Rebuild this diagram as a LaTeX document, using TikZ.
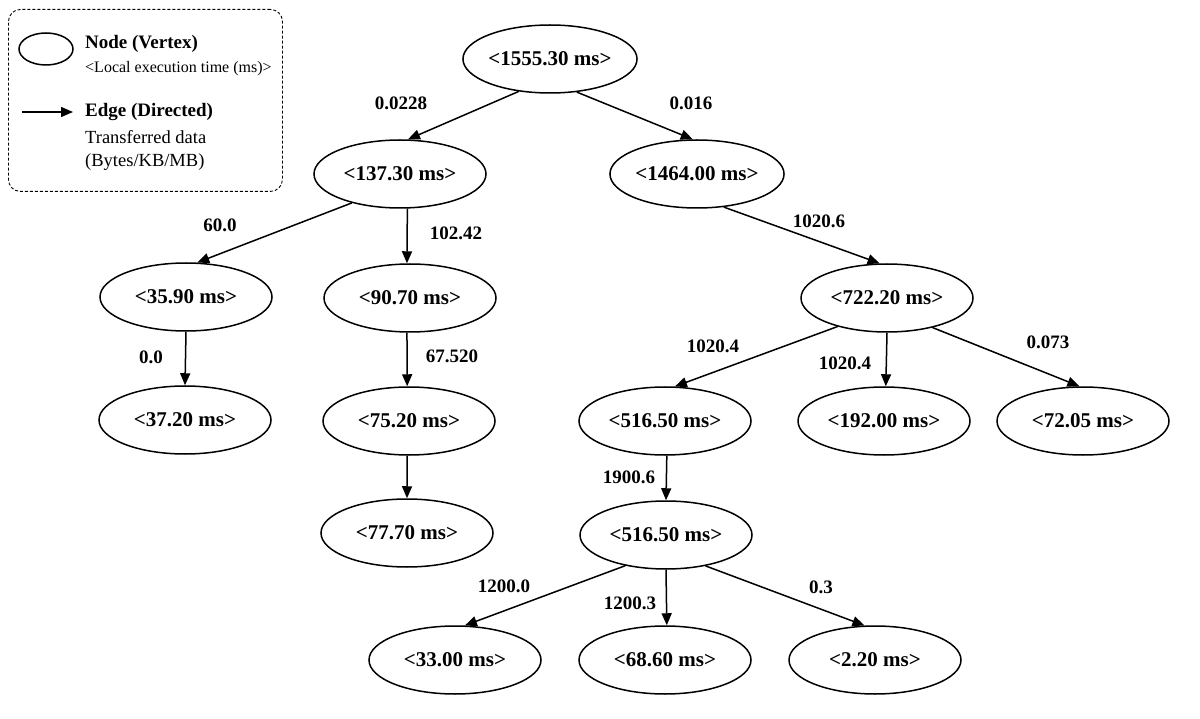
\documentclass[tikz,border=0pt]{standalone}
\usepackage{fontspec}
\setmainfont{Liberation Serif}
\usetikzlibrary{shapes.geometric,arrows.meta}
\begin{document}
\begin{tikzpicture}[x=1pt,y=-1pt,
  vert/.style={ellipse,draw,line width=1.5pt,minimum width=172pt,minimum height=68pt,inner sep=0pt,font=\fontsize{21}{25}\selectfont\bfseries},
  edge/.style={line width=1.5pt,-{Triangle[length=12pt,width=10pt]}},
  elab/.style={inner sep=0pt,font=\fontsize{19}{23}\selectfont\bfseries},
  legbox/.style={draw,dashed,dash pattern=on 3pt off 2pt,line width=0.9pt,rounded corners=12pt},
  legtxt/.style={anchor=base west,inner sep=0pt},
  legbold/.style={legtxt,font=\fontsize{19}{23}\selectfont\bfseries},
  legreg/.style={legtxt,font=\fontsize{18.5}{22}\selectfont},
  legsmall/.style={legtxt,font=\fontsize{16}{20}\selectfont}]
\useasboundingbox[fill=white] (0,0) rectangle (1200,719);

% legend
\node[legbox,minimum width=274pt,minimum height=182pt,anchor=north west] (legend) at (8,9) {};
\node[ellipse,draw,line width=1.5pt,minimum width=54pt,minimum height=32pt,inner sep=0pt] (legnode) at (46,49) {};
\node[legbold] (legnodet) at (85,49) {Node (Vertex)};
\node[legsmall] (legnoded) at (85,73) {<Local execution time (ms)>};
\coordinate (legA) at (22,112);
\coordinate (legB) at (73,112);
\draw[edge] (legA) -- (legB);
\node[legbold] (legedget) at (85,117) {Edge (Directed)};
\node[legreg] (legedged) at (85,144) {Transferred data};
\node[legreg] (legedgee) at (85,167) {(Bytes/KB/MB)};

% nodes
\node[vert] (root) at (550,59) {<1555.30 ms>};
\node[vert] (n137) at (400,174) {<137.30 ms>};
\node[vert] (n1464) at (697,174) {<1464.00 ms>};
\node[vert] (n3590) at (186,297) {<35.90 ms>};
\node[vert] (n9070) at (410,298) {<90.70 ms>};
\node[vert] (n7222) at (887,298) {<722.20 ms>};
\node[vert] (n3720) at (185,420) {<37.20 ms>};
\node[vert] (n7520) at (409,421) {<75.20 ms>};
\node[vert] (n5165a) at (665,421) {<516.50 ms>};
\node[vert] (n19200) at (884,421) {<192.00 ms>};
\node[vert] (n7205) at (1083,421) {<72.05 ms>};
\node[vert] (n7770) at (407,533) {<77.70 ms>};
\node[vert] (n5165b) at (666,535) {<516.50 ms>};
\node[vert] (n3300) at (455,660) {<33.00 ms>};
\node[vert] (n6860) at (665,660) {<68.60 ms>};
\node[vert] (n220) at (875,660) {<2.20 ms>};

% edges
\draw[edge] (root.226) -- (n137.77);
\draw[edge] (root.309) -- (n1464.97);
\draw[edge] (n137.211) -- (n3590.72);
\draw[edge] (n137.282) -- (n9070.95);
\draw[edge] (n1464.309) -- (n7222.102);
\draw[edge] (n3590.270) -- (n3720.90);
\draw[edge] (n9070.265) -- (n7520.93);
\draw[edge] (n7222.210) -- (n5165a.74);
\draw[edge] (n7222.270) -- (n19200.87);
\draw[edge] (n7222.327) -- (n7205.96);
\draw[edge] (n7520.267) -- (n7770.90);
\draw[edge] (n5165a.273) -- (n5165b.90);
\draw[edge] (n5165b.217) -- (n3300.74);
\draw[edge] (n5165b.270) -- (n6860.87);
\draw[edge] (n5165b.322) -- (n220.107);

% edge labels
\node[elab] (l1) at (401,103) {0.0228};
\node[elab] (l2) at (691,103) {0.016};
\node[elab] (l3) at (220,225) {60.0};
\node[elab] (l4) at (456,233) {102.42};
\node[elab] (l5) at (819,221) {1020.6};
\node[elab] (l6) at (151,357) {0.0};
\node[elab] (l7) at (452,356) {67.520};
\node[elab] (l8) at (713,346) {1020.4};
\node[elab] (l9) at (845,363) {1020.4};
\node[elab] (l10) at (1048,342) {0.073};
\node[elab] (l11) at (629,477) {1900.6};
\node[elab] (l12) at (504,586) {1200.0};
\node[elab] (l13) at (630,603) {1200.3};
\node[elab] (l14) at (821,587) {0.3};
\end{tikzpicture}
\end{document}
